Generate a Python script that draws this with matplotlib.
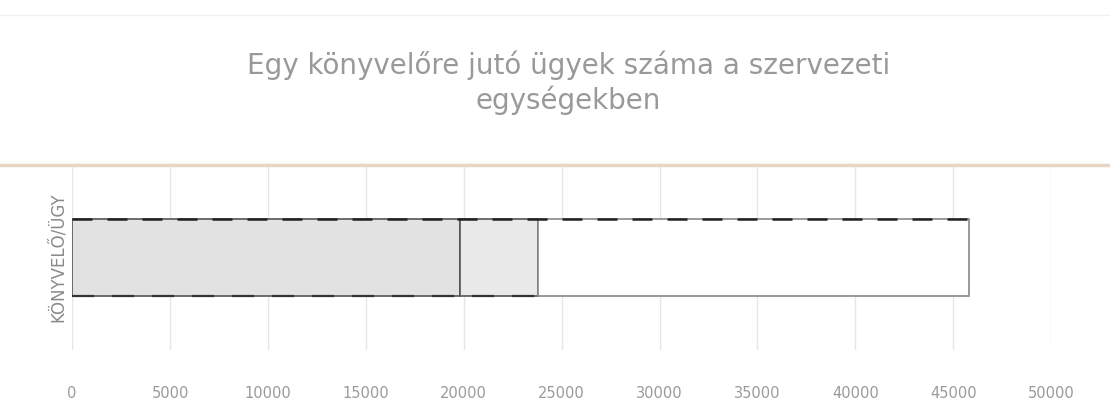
import matplotlib.pyplot as plt
from matplotlib.lines import Line2D

# --- adatok ---
categories = ["KÖNYVELŐ/ÜGY"]
seg_values = [19800, 4000, 22000]
seg_colors = ["#e2e2e2", "#e9e9e9", "#ffffff"]
x_ticks = [0, 5000, 10000, 15000, 20000, 25000, 30000, 35000, 40000, 45000, 50000]
title = "Egy könyvelőre jutó ügyek száma a szervezeti\negységekben"

fig = plt.figure(figsize=(11.1, 4.08), dpi=100)
ax = fig.add_axes([0.065, 0.142, 0.882, 0.454])

left = 0
for i, (v, c) in enumerate(zip(seg_values, seg_colors)):
    ax.barh(categories, v, left=left, height=0.42, color=c,
            edgecolor="#555555" if i < 2 else "#888888", linewidth=1.2, zorder=2)
    left += v

# szaggatott felső és alsó él
total = sum(seg_values)
ax.plot([0, total], [0.21, 0.21], color="#222222", linestyle=(0, (8, 6)), linewidth=1.8, zorder=3)
ax.plot([0, seg_values[0] + seg_values[1]], [-0.21, -0.21], color="#333333",
        linestyle=(0, (10, 8)), linewidth=1.6, zorder=3)

ax.set_xlim(0, 50000)
ax.set_ylim(-0.5, 0.5)
ax.set_xticks(x_ticks)
ax.set_xticklabels([str(t) for t in x_ticks], color="#9a9a9a", fontsize=10.5)
ax.tick_params(axis="x", length=0, pad=26)
ax.tick_params(axis="y", length=0, pad=4)
ax.set_yticks([0])
ax.set_yticklabels(categories, rotation=90, va="center", color="#8a8a8a", fontsize=12)
ax.grid(axis="x", color="#e6e6e6", linewidth=1, zorder=0)
for s in ax.spines.values():
    s.set_visible(False)

# vízszintes barnás vonal és felső halvány vonal
fig.add_artist(Line2D([0, 1], [1 - 165 / 408, 1 - 165 / 408], color="#e8d6c4", linewidth=2.5))
fig.add_artist(Line2D([0, 1], [1 - 15 / 408, 1 - 15 / 408], color="#f0f0f0", linewidth=1))

fig.text(0.512, 0.797, title, ha="center", va="center", color="#999999", fontsize=20, linespacing=1.25)

fig.savefig("out.png", dpi=100)
